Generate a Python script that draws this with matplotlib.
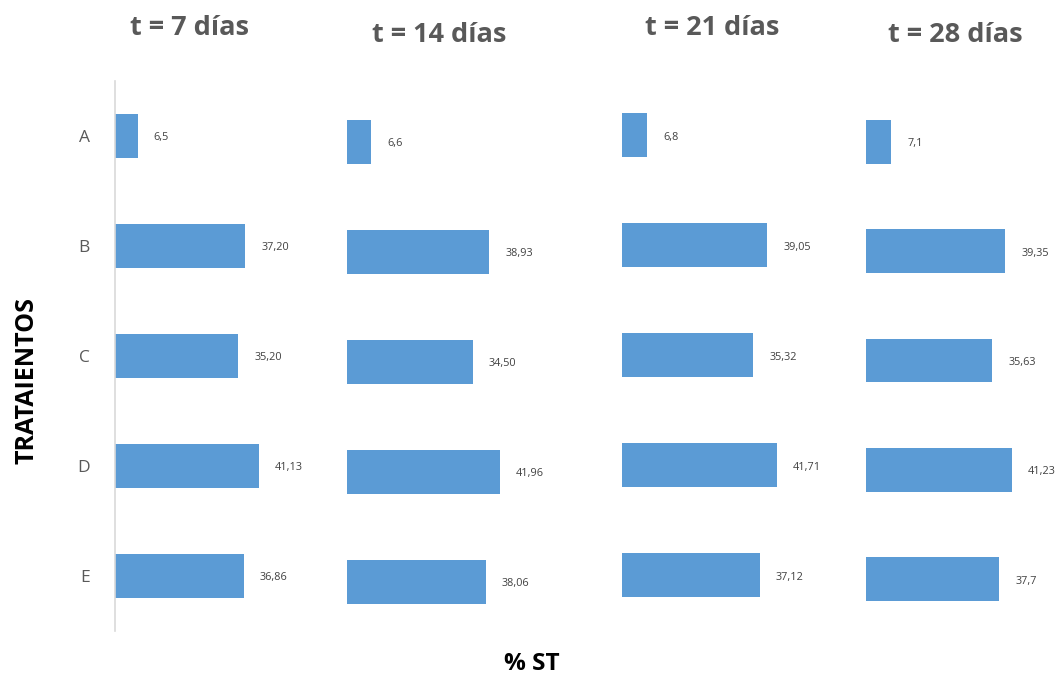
import matplotlib
matplotlib.use("Agg")
import matplotlib.pyplot as plt

# Data
categories = ["A", "B", "C", "D", "E"]
panel_titles = ["t = 7 días", "t = 14 días", "t = 21 días", "t = 28 días"]
labels_t7 = ["6,5", "37,20", "35,20", "41,13", "36,86"]
labels_t14 = ["6,6", "38,93", "34,50", "41,96", "38,06"]
labels_t21 = ["6,8", "39,05", "35,32", "41,71", "37,12"]
labels_t28 = ["7,1", "39,35", "35,63", "41,23", "37,7"]
series_labels = [labels_t7, labels_t14, labels_t21, labels_t28]

W, H = 1060, 677
plt.rcParams["font.family"] = ["Open Sans", "DejaVu Sans"]
fig = plt.figure(figsize=(W / 100, H / 100), dpi=100)

BAR = "#5B9BD5"
GRAY = "#595959"

# panel layout in pixels: x of zero, px per unit, top of first slot, slot height, title pos
panels = [
    dict(x0=115, scale=3.50, top=80.5, slot=110.0, tx=190, ty=28),
    dict(x0=347, scale=3.65, top=86.5, slot=110.0, tx=439, ty=35),
    dict(x0=622, scale=3.72, top=80.0, slot=110.0, tx=712, ty=28),
    dict(x0=866, scale=3.54, top=87.0, slot=109.4, tx=955, ty=35),
]
XMAX = 50

for i, (p, labs) in enumerate(zip(panels, series_labels)):
    vals = [float(s.replace(",", ".")) for s in labs]
    wpx = XMAX * p["scale"]
    hpx = 5 * p["slot"]
    ax = fig.add_axes([p["x0"] / W, 1 - (p["top"] + hpx) / H, wpx / W, hpx / H])
    ypos = list(range(len(categories)))
    ax.barh(ypos, vals, height=0.4, color=BAR, zorder=2)
    ax.set_xlim(0, XMAX)
    ax.set_ylim(4.5, -0.5)
    for y, v, s in zip(ypos, vals, labs):
        ax.annotate(s, (v, y), xytext=(11.5, -1.5), textcoords="offset points",
                    ha="left", va="center", fontsize=7.8, color="#404040")
    for side in ["top", "right", "bottom"]:
        ax.spines[side].set_visible(False)
    ax.set_xticks([])
    if i == 0:
        ax.spines["left"].set_color("#D9D9D9")
        ax.spines["left"].set_linewidth(1.2)
        ax.set_yticks(ypos)
        ax.set_yticklabels(categories, fontsize=12.5, color=GRAY)
        ax.tick_params(axis="y", length=0, pad=18)
    else:
        ax.spines["left"].set_visible(False)
        ax.set_yticks([])
    ax.patch.set_alpha(0)
    fig.text(p["tx"] / W, 1 - p["ty"] / H, panel_titles[i], ha="center", va="center",
             fontsize=19.5, fontweight="bold", color=GRAY)

fig.text(27 / W, 1 - 381 / H, "TRATAIENTOS", rotation=90, ha="center", va="center",
         fontsize=18, fontweight="bold", color="black")
fig.text(532 / W, 1 - 664 / H, "% ST", ha="center", va="center",
         fontsize=17.5, fontweight="bold", color="black")

fig.savefig("out.png", dpi=100, facecolor="white")
